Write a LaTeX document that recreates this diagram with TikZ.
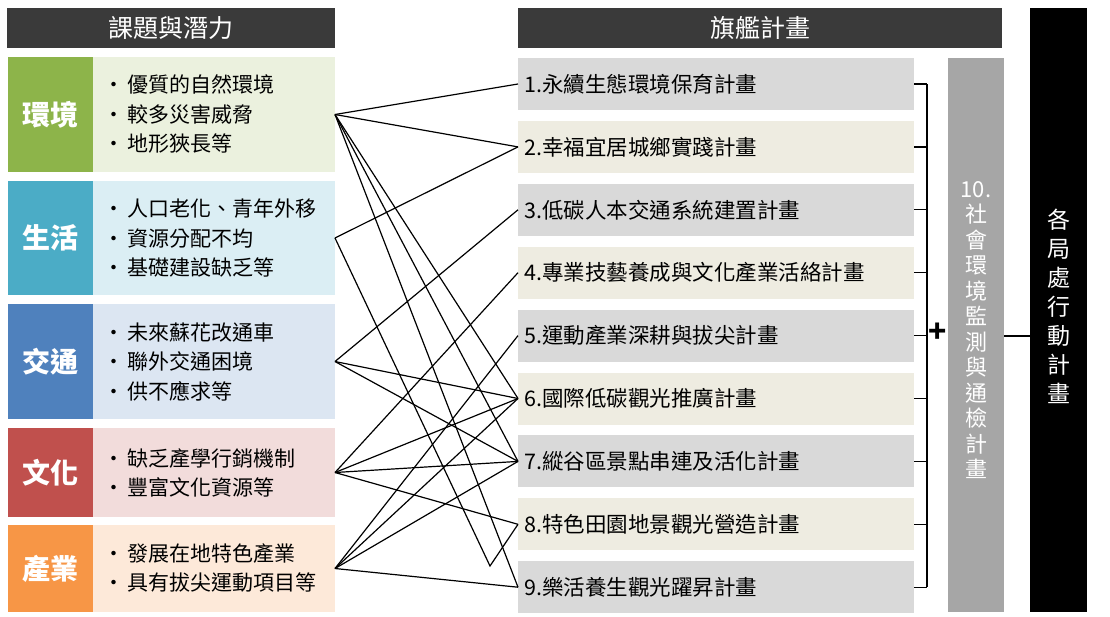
\documentclass[tikz,border=0pt]{standalone}
\usepackage{fontspec}
\setmainfont{Noto Sans CJK TC}
\usetikzlibrary{positioning}
\definecolor{hdr}{HTML}{3A3A3A}
\definecolor{cA}{HTML}{8DB44A}\definecolor{bA}{HTML}{EBF1DE}
\definecolor{cB}{HTML}{4BACC6}\definecolor{bB}{HTML}{DBEEF4}
\definecolor{cC}{HTML}{4F81BD}\definecolor{bC}{HTML}{DCE6F2}
\definecolor{cD}{HTML}{C0504D}\definecolor{bD}{HTML}{F2DCDB}
\definecolor{cE}{HTML}{F79646}\definecolor{bE}{HTML}{FDE9D9}
\definecolor{pg}{HTML}{D9D9D9}\definecolor{pb}{HTML}{EEECE1}
\tikzset{
    header/.style={fill=hdr, text=white, font=\fontsize{25}{28}\selectfont},
    catbox/.style={text=white, font=\fontsize{28}{32}\selectfont\bfseries},
    planbox/.style={minimum width=394pt, minimum height=52pt, inner sep=8pt, anchor=west, text width=384pt, align=left, font=\fontsize{21.5}{24}\selectfont},
    link/.style={line width=1.2pt}
}
\newcommand{\catrow}[6]{% name, top, bottom, colour, bg, label
    \fill[#5] (93,#2) rectangle (335,#3);
    \fill[#4] (8,#2) rectangle (93,#3);
    \node[catbox] at (50.5,{(#2+#3)/2}) {#6};
    \coordinate (#1) at (335,{(#2+#3)/2});
}
\begin{document}
\begin{tikzpicture}[x=1pt,y=-1pt]
    \useasboundingbox (0,0) rectangle (1110,616);
    % headers
    \fill[header] (7,8) rectangle (335,48);
    \node[header] at (171,28) {課題與潛力};
    \fill[header] (518,8) rectangle (1002,48);
    \node[header] at (760,28) {旗艦計畫};
    % categories
    \catrow{env}{57}{172}{cA}{bA}{環境}
    \catrow{life}{181}{295}{cB}{bB}{生活}
    \catrow{traf}{304}{419}{cC}{bC}{交通}
    \catrow{cult}{428}{517}{cD}{bD}{文化}
    \catrow{ind}{525}{612}{cE}{bE}{產業}
    \begin{scope}[font=\fontsize{21}{29.5}\selectfont, inner sep=0pt]
        \node[anchor=west, align=left] at (103,114) {•\,優質的自然環境\\•\,較多災害威脅\\•\,地形狹長等};
        \node[anchor=west, align=left] at (103,238) {•\,人口老化、青年外移\\•\,資源分配不均\\•\,基礎建設缺乏等};
        \node[anchor=west, align=left] at (103,362) {•\,未來蘇花改通車\\•\,聯外交通困境\\•\,供不應求等};
        \node[anchor=west, align=left] at (103,473) {•\,缺乏產學行銷機制\\•\,豐富文化資源等};
        \node[anchor=west, align=left] at (103,568) {•\,發展在地特色產業\\•\,具有拔尖運動項目等};
    \end{scope}
    % flagship plans
    \foreach \t [count=\i] in {永續生態環境保育計畫, 幸福宜居城鄉實踐計畫, 低碳人本交通系統建置計畫, 專業技藝養成與文化產業活絡計畫, 運動產業深耕與拔尖計畫, 國際低碳觀光推廣計畫, 縱谷區景點串連及活化計畫, 特色田園地景觀光營造計畫, 樂活養生觀光躍昇計畫}{
        \pgfmathsetmacro{\yy}{84+62.9*(\i-1)}
        \ifodd\i \def\bg{pg}\else\def\bg{pb}\fi
        \node[planbox, fill=\bg, inner xsep=6pt] (p\i) at (518,\yy) {\i.\t};
        \draw[line width=1.2pt] (p\i.east) -- (927,\yy);
    }
    \draw[line width=1.2pt] (927,84) -- (927,587);
    \node[font=\fontsize{30}{30}\selectfont\bfseries] (plus) at (938,333) {+};
    % monitoring plan and action plans
    \fill[black!35] (948,58) rectangle (1004,612);
    \node[text=white, align=center, font=\fontsize{22}{25.5}\selectfont] (p10) at (976,330) {10.\\社\\會\\環\\境\\監\\測\\與\\通\\檢\\計\\畫};
    \fill[black] (1030,8) rectangle (1087,612);
    \node[text=white, align=center, font=\fontsize{23}{29}\selectfont] (act) at (1058.5,306) {各\\局\\處\\行\\動\\計\\畫};
    \coordinate (b1) at (1004,336);
    \coordinate (b2) at (1030,336);
    \draw[line width=1.2pt] (b1) -- (b2);
    % links
    \coordinate (stray) at (490,566);
    \foreach \s/\d in {env/p1, env/p2, env/p6, env/p7, env/p9, life/p2, traf/p3, traf/p6, traf/p7, cult/p4, cult/p6, cult/p7, cult/p8, ind/p5, ind/p6, ind/p7, ind/p9}
        \draw[link] (\s) -- (\d.west);
    \draw[link] (life) -- (stray) -- (p8.west);
\end{tikzpicture}
\end{document}
